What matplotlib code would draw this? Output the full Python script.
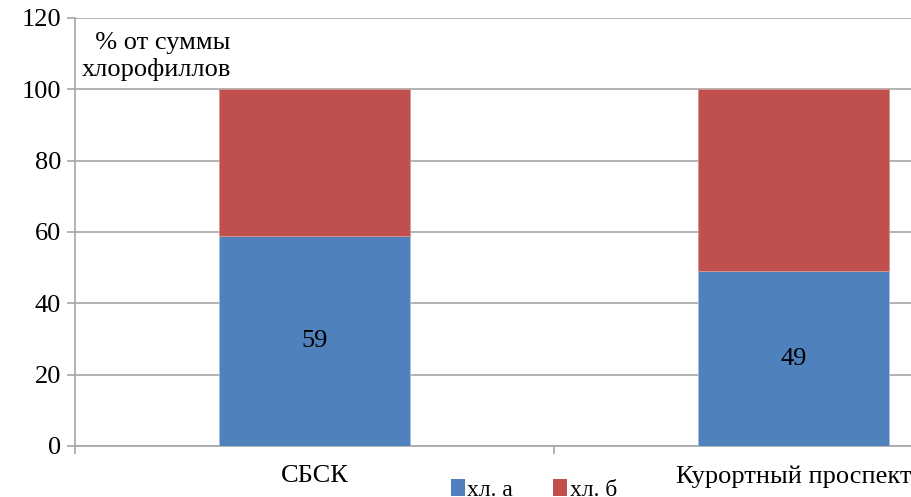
import matplotlib
matplotlib.use("Agg")
import matplotlib.pyplot as plt
from matplotlib.patches import Patch
from matplotlib import font_manager
from matplotlib.font_manager import FontProperties

# Chlorophyll composition, % of total chlorophylls
sites = ["СБСК", "Курортный проспект"]
chl_a = [59, 49]
chl_b = [41, 51]
series_names = ["хл. а", "хл. б"]
y_ticks = [0, 20, 40, 60, 80, 100, 120]

BLUE = "#4F81BD"
RED = "#C0504D"
GRID = "#A6A6A6"


def serif_file():
    """Path of a regular Times-like serif face."""
    entries = font_manager.fontManager.ttflist
    for fam in ("Liberation Serif", "FreeSerif", "DejaVu Serif"):
        for f in entries:
            if f.name == fam and f.style == "normal" and f.weight in (400, "normal", "regular"):
                return f.fname
    return None


path = serif_file()


def fp(size):
    if path:
        return FontProperties(fname=path, size=size)
    return FontProperties(family="serif", size=size)


FS = 19

W, H = 912, 497
fig = plt.figure(figsize=(W / 100, H / 100), dpi=100)
# axes area extends past the right edge of the canvas
left, right, bottom, top = 75, 1033, 51, 479
ax = fig.add_axes([left / W, bottom / H, (right - left) / W, (top - bottom) / H])

x = list(range(len(sites)))
width = 0.397
ax.bar(x, chl_a, width, color=BLUE, edgecolor="#A9BEDB", linewidth=0.6, zorder=3)
ax.bar(x, chl_b, width, bottom=chl_a, color=RED, edgecolor="#D99694",
       linewidth=0.6, zorder=3)

for xi, v in zip(x, chl_a):
    ax.text(xi, v / 2, f"{v}", ha="center", va="center", fontproperties=fp(FS), zorder=4)

ax.set_xlim(-0.5, 1.5)
ax.set_ylim(0, 120)
ax.set_yticks(y_ticks)
ax.set_yticklabels([str(t) for t in y_ticks], fontproperties=fp(FS))
ax.yaxis.grid(True, color=GRID, linewidth=1.2, zorder=0)
ax.set_axisbelow(True)

ax.set_xticks(x)
ax.set_xticklabels(sites, fontproperties=fp(FS))
ax.tick_params(axis="x", length=0, pad=14)
ax.set_xticks([-0.5, 0.5, 1.5], minor=True)
ax.tick_params(axis="x", which="minor", length=6, color=GRID, width=1.2)
ax.tick_params(axis="y", length=6, color=GRID, width=1.2, pad=4)

for s in ["top", "right"]:
    ax.spines[s].set_visible(False)
for s in ["left", "bottom"]:
    ax.spines[s].set_color(GRID)
    ax.spines[s].set_linewidth(1.2)

ax.text(-0.485, 116, "  % от суммы\nхлорофиллов", ha="left", va="top",
        fontproperties=fp(FS), linespacing=1.2, zorder=4)

handles = [Patch(facecolor=BLUE), Patch(facecolor=RED)]
fig.legend(handles, series_names, loc="center", bbox_to_anchor=(534 / W, 7 / H),
           ncol=2, frameon=False, prop=fp(17), handlelength=0.6, handleheight=0.7,
           handletextpad=0.1, columnspacing=1.7)

fig.savefig("out.png", dpi=100)
